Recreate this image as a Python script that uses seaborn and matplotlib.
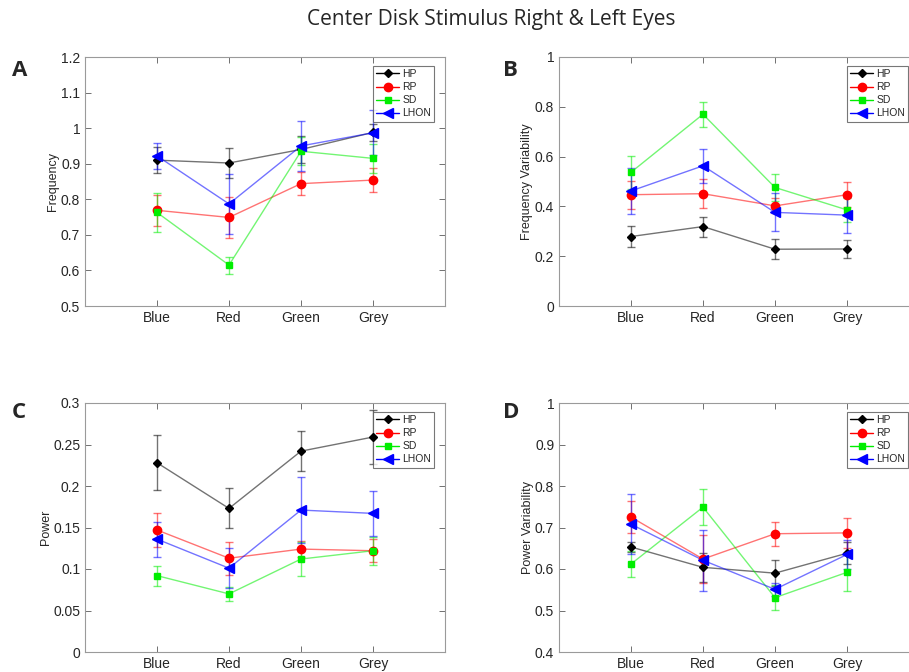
import numpy as np
import pandas as pd
import matplotlib
matplotlib.use("Agg")
import matplotlib.pyplot as plt
import seaborn as sns

categories = ["Blue", "Red", "Green", "Grey"]
groups = ["HP", "RP", "SD", "LHON"]

# Panel A: Frequency
freq_mean = {
    "HP":   [0.910, 0.902, 0.940, 0.988],
    "RP":   [0.769, 0.749, 0.844, 0.854],
    "SD":   [0.763, 0.615, 0.935, 0.915],
    "LHON": [0.922, 0.787, 0.950, 0.987],
}
freq_err = {
    "HP":   [0.037, 0.043, 0.037, 0.025],
    "RP":   [0.044, 0.057, 0.033, 0.034],
    "SD":   [0.054, 0.024, 0.040, 0.040],
    "LHON": [0.036, 0.085, 0.070, 0.063],
}
# Panel B: Frequency Variability
fvar_mean = {
    "HP":   [0.279, 0.319, 0.228, 0.229],
    "RP":   [0.447, 0.451, 0.402, 0.447],
    "SD":   [0.537, 0.770, 0.476, 0.386],
    "LHON": [0.462, 0.563, 0.376, 0.365],
}
fvar_err = {
    "HP":   [0.044, 0.040, 0.040, 0.037],
    "RP":   [0.056, 0.058, 0.030, 0.049],
    "SD":   [0.067, 0.050, 0.053, 0.047],
    "LHON": [0.094, 0.068, 0.076, 0.072],
}
# Panel C: Power
pow_mean = {
    "HP":   [0.228, 0.173, 0.242, 0.259],
    "RP":   [0.147, 0.113, 0.124, 0.122],
    "SD":   [0.092, 0.070, 0.112, 0.122],
    "LHON": [0.136, 0.101, 0.171, 0.167],
}
pow_err = {
    "HP":   [0.033, 0.024, 0.024, 0.032],
    "RP":   [0.020, 0.020, 0.010, 0.014],
    "SD":   [0.012, 0.008, 0.021, 0.017],
    "LHON": [0.021, 0.024, 0.040, 0.027],
}
# Panel D: Power Variability
pvar_mean = {
    "HP":   [0.653, 0.604, 0.590, 0.638],
    "RP":   [0.725, 0.624, 0.685, 0.687],
    "SD":   [0.612, 0.749, 0.531, 0.592],
    "LHON": [0.708, 0.621, 0.551, 0.635],
}
pvar_err = {
    "HP":   [0.012, 0.035, 0.032, 0.026],
    "RP":   [0.038, 0.058, 0.029, 0.037],
    "SD":   [0.032, 0.044, 0.030, 0.044],
    "LHON": [0.072, 0.073, 0.016, 0.034],
}

colors = {"HP": "#000000", "RP": "#FF0000", "SD": "#00EE00", "LHON": "#0000FF"}
markers = {"HP": "D", "RP": "o", "SD": "s", "LHON": "<"}
msizes = {"HP": 4.5, "RP": 6.0, "SD": 4.0, "LHON": 6.5}

sns.set_theme(style="white")
plt.rcParams["font.family"] = ["Liberation Sans", "DejaVu Sans"]

fig = plt.figure(figsize=(9.09, 6.72), dpi=100)

W = 360 / 909
H = 249 / 672
positions = {
    "A": [85 / 909, (672 - 306) / 672, W, H],
    "B": [559 / 909, (672 - 306) / 672, W, H],
    "C": [85 / 909, (672 - 652) / 672, W, H],
    "D": [559 / 909, (672 - 652) / 672, W, H],
}

panels = [
    ("A", freq_mean, freq_err, "Frequency", (0.5, 1.2), np.arange(0.5, 1.21, 0.1),
     ["0.5", "0.6", "0.7", "0.8", "0.9", "1", "1.1", "1.2"]),
    ("B", fvar_mean, fvar_err, "Frequency Variability", (0, 1), np.arange(0, 1.01, 0.2),
     ["0", "0.2", "0.4", "0.6", "0.8", "1"]),
    ("C", pow_mean, pow_err, "Power", (0, 0.3), np.arange(0, 0.301, 0.05),
     ["0", "0.05", "0.1", "0.15", "0.2", "0.25", "0.3"]),
    ("D", pvar_mean, pvar_err, "Power Variability", (0.4, 1.0), np.arange(0.4, 1.01, 0.1),
     ["0.4", "0.5", "0.6", "0.7", "0.8", "0.9", "1"]),
]

xpos = np.arange(1, len(categories) + 1)

for letter, means, errs, ylabel, ylim, yticks, ylabels in panels:
    ax = fig.add_axes(positions[letter])
    rows = []
    for g in groups:
        for i, c in enumerate(categories):
            rows.append({"x": xpos[i], "val": means[g][i], "group": g})
    df = pd.DataFrame(rows)
    for g in groups:
        sub = df[df["group"] == g]
        ax.errorbar(sub["x"], sub["val"], yerr=errs[g], fmt="none",
                    ecolor=colors[g], alpha=0.55, elinewidth=1.0, capsize=3,
                    capthick=1.0, zorder=2)
        sns.lineplot(data=sub, x="x", y="val", ax=ax, color=colors[g],
                     lw=1.0, alpha=0.55, zorder=3, legend=False)
        ax.plot(sub["x"], sub["val"], linestyle="none", marker=markers[g],
                markersize=msizes[g], color=colors[g], zorder=4)
    # legend proxies
    handles = []
    for g in groups:
        h, = ax.plot([], [], color=colors[g], lw=1.0, marker=markers[g],
                     markersize=msizes[g], label=g)
        handles.append(h)
    leg = ax.legend(handles=handles, loc="upper right", fontsize=7.5,
                    frameon=True, fancybox=False, borderpad=0.3,
                    labelspacing=0.3, handlelength=2.2, handletextpad=0.3,
                    bbox_to_anchor=(0.985, 0.985))
    leg.get_frame().set_edgecolor("#555555")
    leg.get_frame().set_linewidth(0.8)
    leg.set_zorder(3.5)

    ax.set_xlim(0, 5)
    ax.set_ylim(*ylim)
    ax.set_xticks(xpos)
    ax.set_xticklabels(categories)
    ax.set_yticks(yticks)
    ax.set_yticklabels(ylabels)
    ax.set_xlabel("")
    ax.set_ylabel(ylabel, fontsize=9, color="#262626", labelpad=1)
    ax.tick_params(axis="both", direction="in", length=4, width=0.6,
                   colors="#5a5a5a", labelcolor="#262626", labelsize=10,
                   top=True, right=True, bottom=True, left=True)
    for s in ax.spines.values():
        s.set_color("#9a9a9a")
        s.set_linewidth(0.8)
        s.set_visible(True)

letter_pos = {"A": (12, 70), "B": (503, 70), "C": (12, 413), "D": (503, 413)}
for k, (px, py) in letter_pos.items():
    fig.text(px / 909, 1 - py / 672, k, fontsize=16, fontweight="bold",
             family=["Open Sans", "DejaVu Sans"], va="center", ha="left")

fig.text(491 / 909, 1 - 20 / 672, "Center Disk Stimulus Right & Left Eyes",
         fontsize=15, ha="center", va="center", family=["Open Sans", "DejaVu Sans"])

fig.savefig("out.png", dpi=100)
